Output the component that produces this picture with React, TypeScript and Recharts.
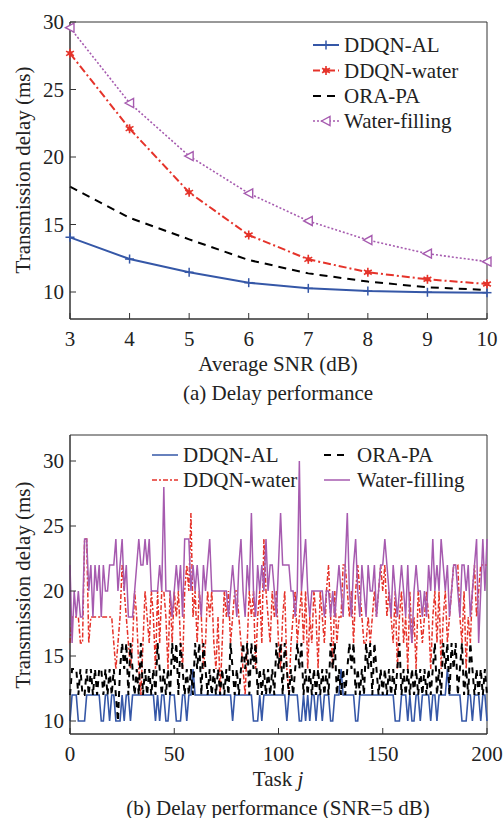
import React from 'react';
import { LineChart, Line, XAxis, YAxis, ReferenceArea, Legend } from 'recharts';

const FONT = '"Liberation Serif", "Times New Roman", serif';
const BLUE = '#3557A7';
const RED = '#E5332A';
const PURPLE = '#A65BAF';
const BLACK = '#000000';
const AXIS = '#333333';
const TXT = '#222222';

// ---------- (a) Delay performance ----------
const snr = [3, 4, 5, 6, 7, 8, 9, 10];
const ddqnAL = [14.05, 12.44, 11.46, 10.69, 10.27, 10.07, 9.98, 9.95];
const ddqnWater = [27.68, 22.1, 17.38, 14.22, 12.42, 11.46, 10.94, 10.59];
const oraPA = [17.8, 15.5, 13.9, 12.37, 11.38, 10.77, 10.35, 10.15];
const waterFilling = [29.58, 24.0, 20.07, 17.31, 15.26, 13.85, 12.84, 12.25];
const snrTicks = [3, 4, 5, 6, 7, 8, 9, 10];
const delayTicksA = [10, 15, 20, 25, 30];

// ---------- (b) Delay performance (SNR=5 dB), tasks 0..200 ----------
const taskAL = [
  10, 12, 12, 12, 10, 10, 10, 10, 12, 12,
  12, 12, 12, 12, 12, 10, 10, 12, 12, 10,
  12, 12, 10, 10, 10, 12, 10, 12, 12, 10,
  12, 12, 12, 12, 12, 12, 12, 12, 12, 12,
  12, 10, 12, 10, 12, 12, 10, 10, 12, 12,
  12, 10, 10, 10, 12, 12, 10, 12, 12, 14,
  12, 12, 12, 12, 12, 12, 12, 12, 12, 12,
  12, 12, 12, 12, 12, 12, 12, 12, 10, 12,
  12, 12, 12, 12, 12, 12, 12, 12, 10, 10,
  10, 12, 10, 12, 12, 12, 12, 12, 12, 12,
  12, 12, 12, 12, 10, 12, 12, 12, 12, 12,
  10, 10, 12, 10, 12, 10, 12, 12, 10, 12,
  12, 10, 12, 12, 12, 10, 10, 12, 12, 12,
  14, 12, 12, 12, 12, 12, 12, 10, 10, 12,
  12, 12, 12, 12, 12, 12, 12, 12, 12, 12,
  12, 12, 12, 12, 12, 12, 10, 10, 10, 12,
  12, 12, 10, 12, 10, 10, 12, 12, 10, 12,
  12, 12, 12, 10, 12, 12, 10, 12, 12, 12,
  12, 14, 12, 12, 12, 12, 12, 12, 10, 10,
  10, 12, 12, 10, 12, 12, 12, 10, 12, 12,
  10,
];
const taskWater = [
  16, 18, 18, 18, 18, 16, 16, 24, 24, 16,
  18, 18, 18, 18, 18, 18, 18, 18, 18, 18,
  18, 16, 14, 16, 18, 22, 20, 18, 16, 14,
  16, 20, 18, 14, 12, 16, 20, 18, 16, 20,
  18, 14, 20, 16, 20, 20, 18, 14, 20, 16,
  20, 18, 20, 16, 14, 20, 22, 20, 26, 18,
  20, 16, 20, 18, 14, 16, 20, 18, 20, 16,
  14, 18, 12, 16, 20, 18, 20, 16, 18, 20,
  20, 18, 16, 14, 12, 16, 20, 18, 20, 14,
  18, 20, 16, 24, 20, 18, 16, 20, 18, 20,
  16, 14, 18, 20, 14, 12, 16, 18, 20, 16,
  18, 20, 16, 20, 14, 18, 16, 20, 18, 14,
  20, 18, 16, 20, 22, 18, 14, 20, 16, 18,
  18, 22, 22, 20, 18, 20, 16, 20, 22, 20,
  18, 16, 16, 18, 16, 18, 20, 18, 20, 22,
  20, 22, 18, 20, 18, 16, 20, 14, 18, 20,
  16, 18, 14, 20, 16, 18, 14, 20, 18, 16,
  18, 20, 18, 14, 18, 20, 16, 20, 14, 18,
  20, 16, 18, 20, 22, 22, 22, 18, 16, 20,
  14, 18, 16, 20, 22, 18, 20, 22, 22, 22,
  22,
];
const taskORA = [
  12, 14, 14, 14, 12, 14, 12, 12, 14, 12,
  14, 12, 14, 12, 14, 14, 12, 14, 12, 14,
  12, 14, 12, 10, 14, 16, 14, 16, 12, 16,
  14, 12, 14, 12, 16, 12, 14, 12, 14, 12,
  14, 12, 16, 14, 12, 14, 12, 14, 12, 16,
  14, 16, 12, 16, 14, 12, 14, 12, 14, 12,
  16, 14, 16, 12, 16, 14, 12, 14, 12, 14,
  12, 14, 12, 14, 12, 14, 12, 16, 14, 12,
  14, 12, 14, 16, 14, 16, 12, 16, 14, 16,
  12, 14, 12, 14, 12, 14, 12, 14, 12, 16,
  14, 16, 12, 16, 14, 12, 14, 12, 14, 16,
  14, 16, 12, 14, 12, 14, 12, 14, 12, 14,
  12, 14, 12, 14, 12, 16, 14, 16, 12, 14,
  12, 14, 12, 14, 16, 14, 16, 12, 14, 12,
  14, 12, 16, 14, 16, 12, 16, 14, 12, 14,
  12, 14, 12, 14, 12, 14, 12, 14, 16, 12,
  14, 12, 14, 12, 14, 12, 14, 12, 14, 12,
  14, 12, 14, 12, 14, 16, 12, 14, 12, 16,
  14, 16, 12, 16, 14, 16, 12, 14, 16, 12,
  14, 12, 16, 14, 12, 14, 12, 14, 12, 14,
  12,
];
const taskWF = [
  22, 16, 20, 18, 20, 18, 18, 24, 24, 20,
  22, 18, 22, 20, 22, 18, 22, 20, 20, 22,
  22, 22, 24, 20, 22, 24, 20, 22, 18, 18,
  18, 20, 22, 24, 22, 22, 24, 22, 24, 20,
  20, 20, 20, 22, 20, 28, 20, 20, 20, 18,
  20, 22, 20, 22, 18, 24, 24, 24, 20, 22,
  20, 22, 20, 18, 22, 20, 22, 24, 20, 20,
  20, 20, 20, 20, 20, 20, 18, 20, 22, 20,
  18, 22, 24, 20, 18, 22, 20, 26, 20, 18,
  22, 20, 22, 20, 24, 20, 22, 22, 20, 18,
  22, 26, 22, 22, 22, 22, 20, 20, 18, 20,
  30, 20, 22, 24, 20, 18, 20, 20, 20, 20,
  20, 20, 18, 20, 20, 18, 20, 18, 20, 22,
  20, 18, 22, 26, 20, 18, 22, 24, 20, 18,
  22, 20, 18, 22, 20, 20, 22, 18, 20, 22,
  22, 24, 22, 20, 18, 22, 20, 18, 20, 22,
  20, 18, 22, 18, 16, 20, 22, 20, 20, 18,
  20, 18, 22, 20, 24, 20, 22, 20, 24, 22,
  20, 22, 18, 20, 22, 22, 20, 18, 22, 22,
  20, 22, 18, 20, 22, 24, 16, 20, 24, 20,
  24,
];
const taskTicks = [0, 50, 100, 150, 200];
const delayTicksB = [10, 15, 20, 25, 30];

const dataA = snr.map((s, i) => ({
  snr: s,
  al: ddqnAL[i],
  water: ddqnWater[i],
  ora: oraPA[i],
  wf: waterFilling[i],
}));

const dataB = taskAL.map((v, i) => ({
  j: i,
  al: v,
  water: taskWater[i],
  ora: taskORA[i],
  wf: taskWF[i],
}));

const FS = 21;

const XTick = (props: any) => {
  const { x, y, payload } = props;
  return (
    <g>
      <line x1={x} y1={y} x2={x} y2={y - 6} stroke={AXIS} strokeWidth={1} />
      <text x={x} y={y + 27} textAnchor="middle" fontSize={FS} fontFamily={FONT} fill={TXT}>
        {payload.value}
      </text>
    </g>
  );
};

const YTick = (props: any) => {
  const { x, y, payload } = props;
  return (
    <g>
      <line x1={x} y1={y} x2={x + 6} y2={y} stroke={AXIS} strokeWidth={1} />
      <text x={x - 6} y={y} dy="0.35em" textAnchor="end" fontSize={FS} fontFamily={FONT} fill={TXT}>
        {payload.value}
      </text>
    </g>
  );
};

const PlusMark = ({ cx, cy }: any) => (
  <g>
    <line x1={cx - 4.5} y1={cy} x2={cx + 4.5} y2={cy} stroke={BLUE} strokeWidth={1.5} />
    <line x1={cx} y1={cy - 4.5} x2={cx} y2={cy + 4.5} stroke={BLUE} strokeWidth={1.5} />
  </g>
);

const StarMark = ({ cx, cy }: any) => (
  <g>
    <line x1={cx} y1={cy - 4.5} x2={cx} y2={cy + 4.5} stroke={RED} strokeWidth={1.6} />
    <line x1={cx - 3.9} y1={cy - 2.25} x2={cx + 3.9} y2={cy + 2.25} stroke={RED} strokeWidth={1.6} />
    <line x1={cx - 3.9} y1={cy + 2.25} x2={cx + 3.9} y2={cy - 2.25} stroke={RED} strokeWidth={1.6} />
    <circle cx={cx} cy={cy} r={2.4} fill={RED} />
  </g>
);

const TriMark = ({ cx, cy }: any) => (
  <polygon
    points={`${cx - 4.5},${cy} ${cx + 4},${cy - 4.5} ${cx + 4},${cy + 4.5}`}
    fill="#ffffff"
    stroke={PURPLE}
    strokeWidth={1.4}
  />
);

const legendText = { fontSize: FS, fontFamily: FONT, fill: TXT } as const;

const LegendA = () => (
  <svg width={503} height={140} style={{ overflow: 'visible' }}>
    <g>
      <line x1={313} y1={45} x2={339} y2={45} stroke={BLUE} strokeWidth={2} />
      <PlusMark cx={326} cy={45} />
      <text x={344} y={45} dy="0.35em" {...legendText}>DDQN-AL</text>
    </g>
    <g>
      <line x1={313} y1={70.5} x2={339} y2={70.5} stroke={RED} strokeWidth={2} strokeDasharray="7 3 2 3" />
      <StarMark cx={326} cy={70.5} />
      <text x={344} y={70.5} dy="0.35em" {...legendText}>DDQN-water</text>
    </g>
    <g>
      <line x1={313} y1={96} x2={339} y2={96} stroke={BLACK} strokeWidth={2} strokeDasharray="8 6" />
      <text x={344} y={96} dy="0.35em" {...legendText}>ORA-PA</text>
    </g>
    <g>
      <line x1={313} y1={121} x2={339} y2={121} stroke={PURPLE} strokeWidth={1.6} strokeDasharray="2 2" />
      <TriMark cx={326} cy={121} />
      <text x={344} y={121} dy="0.35em" {...legendText}>Water-filling</text>
    </g>
  </svg>
);

const LegendB = () => (
  <svg width={503} height={100} style={{ overflow: 'visible' }}>
    <g>
      <line x1={152} y1={55} x2={178} y2={55} stroke={BLUE} strokeWidth={1.5} />
      <text x={183} y={55} dy="0.35em" {...legendText}>DDQN-AL</text>
    </g>
    <g>
      <line x1={152} y1={80} x2={178} y2={80} stroke={RED} strokeWidth={1.5} strokeDasharray="5 2 2 2" />
      <text x={183} y={80} dy="0.35em" {...legendText}>DDQN-water</text>
    </g>
    <g>
      <line x1={324} y1={55} x2={349} y2={55} stroke={BLACK} strokeWidth={2.2} strokeDasharray="7 6" />
      <text x={357} y={55} dy="0.35em" {...legendText}>ORA-PA</text>
    </g>
    <g>
      <line x1={324} y1={80} x2={350} y2={80} stroke={PURPLE} strokeWidth={1.5} />
      <text x={357} y={80} dy="0.35em" {...legendText}>Water-filling</text>
    </g>
  </svg>
);

const textStyle: React.CSSProperties = {
  position: 'absolute',
  fontFamily: FONT,
  fontSize: FS,
  color: TXT,
  whiteSpace: 'nowrap',
  lineHeight: 1,
  transform: 'translate(-50%, -50%)',
};

export default function App() {
  return (
    <div style={{ position: 'absolute', left: 0, top: 0, width: 503, height: 818, background: '#fff', overflow: 'hidden' }}>
      {/* Chart (a) */}
      <div style={{ position: 'absolute', left: 0, top: 0 }}>
        <LineChart width={503} height={360} data={dataA} margin={{ top: 22, right: 16, left: 0, bottom: 10 }}>
          <XAxis
            dataKey="snr"
            type="number"
            domain={[3, 10]}
            ticks={snrTicks}
            interval={0}
            height={31}
            tickSize={0}
            tickMargin={0}
            tickLine={false}
            axisLine={{ stroke: AXIS }}
            tick={<XTick />}
          />
          <YAxis
            type="number"
            domain={[8, 30]}
            ticks={delayTicksA}
            interval={0}
            width={70}
            tickSize={0}
            tickMargin={0}
            tickLine={false}
            axisLine={{ stroke: AXIS }}
            tick={<YTick />}
            allowDataOverflow
          />
          <ReferenceArea x1={3} x2={10} y1={8} y2={30} fill="none" fillOpacity={0} stroke={AXIS} strokeWidth={1} />
          <Line
            dataKey="al"
            stroke={BLUE}
            strokeWidth={2}
            isAnimationActive={false}
            activeDot={false}
            dot={(p: any) => <PlusMark key={`a${p.index}`} cx={p.cx} cy={p.cy} />}
          />
          <Line
            dataKey="water"
            stroke={RED}
            strokeWidth={2}
            strokeDasharray="8 3 2 3"
            isAnimationActive={false}
            activeDot={false}
            dot={(p: any) => <StarMark key={`w${p.index}`} cx={p.cx} cy={p.cy} />}
          />
          <Line
            dataKey="ora"
            stroke={BLACK}
            strokeWidth={2}
            strokeDasharray="8 6"
            isAnimationActive={false}
            activeDot={false}
            dot={false}
          />
          <Line
            dataKey="wf"
            stroke={PURPLE}
            strokeWidth={1.6}
            strokeDasharray="2 2"
            isAnimationActive={false}
            activeDot={false}
            dot={(p: any) => <TriMark key={`f${p.index}`} cx={p.cx} cy={p.cy} />}
          />
          <Legend
            layout="vertical"
            align="center"
            verticalAlign="middle"
            content={() => <LegendA />}
            wrapperStyle={{ position: 'absolute', left: 0, top: 0, width: 503, height: 140 }}
          />
        </LineChart>
      </div>
      <div style={{ ...textStyle, left: 23, top: 170, transform: 'translate(-50%, -50%) rotate(-90deg)' }}>
        Transmission delay (ms)
      </div>
      <div style={{ ...textStyle, left: 278, top: 364 }}>Average SNR (dB)</div>
      <div style={{ ...textStyle, left: 278, top: 393 }}>(a) Delay performance</div>

      {/* Chart (b) */}
      <div style={{ position: 'absolute', left: 0, top: 400 }}>
        <LineChart width={503} height={375} data={dataB} margin={{ top: 35, right: 16, left: 0, bottom: 15 }}>
          <XAxis
            dataKey="j"
            type="number"
            domain={[0, 200]}
            ticks={taskTicks}
            interval={0}
            height={26}
            tickSize={0}
            tickMargin={0}
            tickLine={false}
            axisLine={{ stroke: AXIS }}
            tick={<XTick />}
          />
          <YAxis
            type="number"
            domain={[9, 32]}
            ticks={delayTicksB}
            interval={0}
            width={70}
            tickSize={0}
            tickMargin={0}
            tickLine={false}
            axisLine={{ stroke: AXIS }}
            tick={<YTick />}
            allowDataOverflow
          />
          <ReferenceArea x1={0} x2={200} y1={9} y2={32} fill="none" fillOpacity={0} stroke={AXIS} strokeWidth={1} />
          <Line dataKey="al" stroke={BLUE} strokeWidth={1.6} dot={false} activeDot={false} isAnimationActive={false} />
          <Line
            dataKey="water"
            stroke={RED}
            strokeWidth={1.5}
            strokeDasharray="5 2 2 2"
            dot={false}
            activeDot={false}
            isAnimationActive={false}
          />
          <Line
            dataKey="ora"
            stroke={BLACK}
            strokeWidth={2}
            strokeDasharray="6 5"
            dot={false}
            activeDot={false}
            isAnimationActive={false}
          />
          <Line dataKey="wf" stroke={PURPLE} strokeWidth={1.5} dot={false} activeDot={false} isAnimationActive={false} />
          <Legend
            layout="vertical"
            align="center"
            verticalAlign="middle"
            content={() => <LegendB />}
            wrapperStyle={{ position: 'absolute', left: 0, top: 0, width: 503, height: 100 }}
          />
        </LineChart>
      </div>
      <div style={{ ...textStyle, left: 23, top: 585, transform: 'translate(-50%, -50%) rotate(-90deg)' }}>
        Transmission delay (ms)
      </div>
      <div style={{ ...textStyle, left: 278, top: 779 }}>
        Task <i>j</i>
      </div>
      <div style={{ ...textStyle, left: 278, top: 808 }}>(b) Delay performance (SNR=5 dB)</div>
    </div>
  );
}
